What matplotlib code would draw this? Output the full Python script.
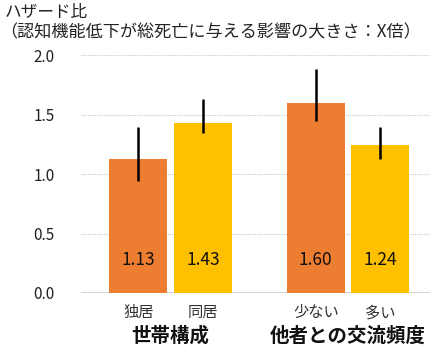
import matplotlib.pyplot as plt

plt.rcParams['font.family'] = ['Noto Sans CJK JP', 'DejaVu Sans']

categories = ["独居", "同居", "少ない", "多い"]
groups = ["世帯構成", "他者との交流頻度"]
hazard = [1.13, 1.43, 1.60, 1.24]
ci_low = [0.94, 1.345, 1.445, 1.13]
ci_high = [1.395, 1.63, 1.88, 1.395]
colors = ["#ED7D31", "#FFC000", "#ED7D31", "#FFC000"]

xpos = [0, 1, 2.75, 3.75]

fig = plt.figure(figsize=(4.47, 3.53), dpi=100)
ax = fig.add_axes([0.181, 0.17, 0.781, 0.674])

yerr = [[h - lo for h, lo in zip(hazard, ci_low)],
        [hi - h for h, hi in zip(hazard, ci_high)]]
ax.bar(xpos, hazard, width=0.9, color=colors, zorder=2)
ax.errorbar(xpos, hazard, yerr=yerr, fmt='none', ecolor='black',
            elinewidth=1.8, capsize=0, zorder=3)

for x, h in zip(xpos, hazard):
    ax.text(x, 0.28, f"{h:.2f}", ha='center', va='center', fontsize=12.5,
            color='#111111', zorder=4)

ax.set_xlim(-0.89, 4.52)
ax.set_ylim(0, 2.0)
ax.set_yticks([0, 0.5, 1.0, 1.5, 2.0])
ax.set_yticklabels([f"{v:.1f}" for v in [0, 0.5, 1.0, 1.5, 2.0]])
ax.set_xticks(xpos)
ax.set_xticklabels(categories)
ax.tick_params(axis='y', length=0, pad=19, labelsize=11, labelcolor='#222222')
ax.tick_params(axis='x', length=0, pad=8, labelsize=11, labelcolor='#333333')

ax.grid(axis='y', color='#c8c8c8', linestyle=(0, (1, 1)), linewidth=0.8, zorder=0)
ax.axhline(0, color='#d0d0d0', linewidth=1.2, zorder=1)
for s in ax.spines.values():
    s.set_visible(False)

group_x = [(xpos[0] + xpos[1]) / 2, (xpos[2] + xpos[3]) / 2]
for gx, g in zip(group_x, groups):
    ax.text(gx, -0.36, g, transform=ax.transData, ha='center', va='center',
            fontsize=14, fontweight='bold', color='#111111')

fig.text(0.010, 0.965, "ハザード比", ha='left', va='center', fontsize=12, color='#222222')
fig.text(0.0, 0.907, "（認知機能低下が総死亡に与える影響の大きさ：X倍）", ha='left', va='center',
         fontsize=12.3, color='#222222')

fig.savefig("out.png", dpi=100)
